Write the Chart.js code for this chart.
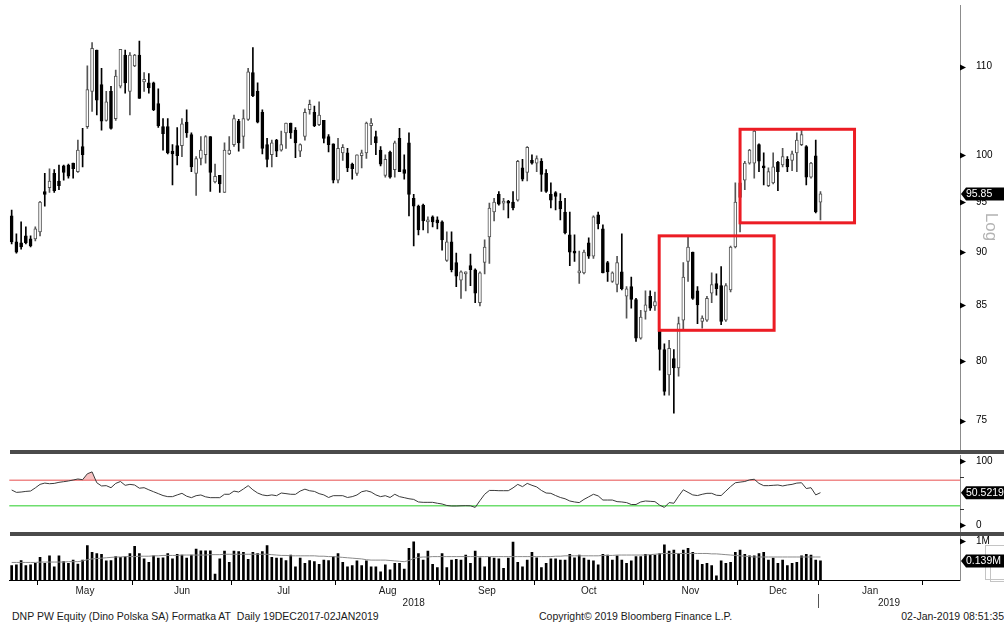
<!DOCTYPE html>
<html>
<head>
<meta charset="utf-8">
<title>DNP PW Equity</title>
<script src="https://cdn.jsdelivr.net/npm/chart.js@4.4.1/dist/chart.umd.min.js"></script>
<style>
  body { margin: 0; background: #fff; }
  #page { position: relative; width: 1004px; height: 625px; overflow: hidden;
          font-family: "Liberation Sans", Arial, sans-serif; color: #1a1a1a; }
  canvas { position: absolute; left: 0; }
  #cPrice { top: 0; }
  #cRsi { top: 454px; }
  #cVol { top: 535px; }
  .sep { position: absolute; left: 10px; width: 994px; height: 4px; background: #4b4b4b; }
  .foot { position: absolute; top: 610px; font-size: 10.5px; white-space: nowrap; }
</style>
</head>
<body>
<div id="page">
  <canvas id="cPrice" width="1004" height="450"></canvas>
  <canvas id="cRsi" width="1004" height="78"></canvas>
  <canvas id="cVol" width="1004" height="74"></canvas>
  <div class="sep" style="top:450px"></div>
  <div class="sep" style="top:532px"></div>
  <div class="foot" style="left:12px">DNP PW Equity (Dino Polska SA) Formatka AT&nbsp; Daily 19DEC2017-02JAN2019</div>
  <div class="foot" style="left:539px">Copyright© 2019 Bloomberg Finance L.P.</div>
  <div class="foot" style="right:0">02-Jan-2019 08:51:35</div>
</div>
<script>
// daily candles, 23 Apr 2018 .. 02 Jan 2019 (one entry per trading day)
const open = [
  93.6, 91.0, 90.9, 91.6, 91.3, 91.3, 92.0, 96.1, 96.5, 98.0,
  97.2, 98.8, 98.9, 99.1, 98.2, 100.9, 103.1, 107.1, 112.0, 107.9,
  103.8, 107.1, 104.0, 107.7, 111.4, 107.1, 110.1, 111.4, 108.2, 108.1,
  108.1, 105.7, 103.1, 103.1, 100.4, 101.0, 101.0, 103.6, 102.2, 98.0,
  99.6, 100.0, 102.0, 97.1, 97.8, 96.0, 100.1, 101.1, 103.7, 102.0,
  103.9, 109.3, 107.1, 104.7, 101.1, 100.0, 101.6, 100.5, 102.4, 103.5,
  102.7, 100.4, 102.0, 105.0, 104.7, 103.3, 103.8, 102.0, 101.2, 97.3,
  100.2, 100.2, 99.0, 98.0, 99.9, 100.2, 103.2, 102.0, 100.5, 97.8,
  100.3, 98.4, 101.8, 98.4, 101.3, 95.4, 94.6, 94.7, 93.0, 93.5,
  93.2, 93.0, 89.2, 91.0, 89.0, 87.3, 87.9, 88.7, 88.3, 85.2,
  89.0, 91.5, 94.0, 95.8, 94.9, 95.1, 95.0, 95.2, 98.6, 98.1,
  99.4, 99.1, 99.3, 98.0, 95.8, 96.0, 95.1, 94.0, 91.7, 90.1,
  88.0, 88.0, 90.9, 89.6, 93.7, 92.3, 89.0, 87.2, 86.9, 88.1,
  85.8, 86.7, 85.5, 82.0, 84.4, 85.8, 84.9, 82.6, 81.0, 78.8,
  80.2, 79.4, 83.6, 89.1, 90.0, 86.3, 83.5, 83.6, 86.1, 87.0,
  86.8, 83.6, 86.4, 90.5, 95.5, 97.3, 99.1, 99.1, 101.1, 98.8,
  96.7, 97.0, 99.2, 98.9, 99.5, 99.4, 100.2, 101.1, 100.9, 97.6,
  99.9, 95.0
];
const high = [
  94.2, 91.8, 93.0, 92.5, 91.6, 92.5, 95.1, 98.0, 98.5, 98.4,
  98.9, 98.9, 99.0, 99.1, 101.6, 102.9, 110.1, 112.9, 112.0, 109.8,
  107.1, 107.7, 109.6, 112.1, 112.0, 111.7, 111.5, 113.1, 109.3, 109.2,
  108.2, 107.4, 104.0, 104.0, 101.1, 103.0, 104.0, 105.0, 102.4, 99.8,
  102.0, 102.1, 102.0, 99.0, 97.8, 101.3, 102.0, 104.4, 103.9, 105.0,
  109.8, 112.3, 108.1, 105.0, 101.8, 101.6, 101.7, 102.6, 103.5, 103.5,
  103.0, 101.2, 105.1, 106.1, 105.4, 105.9, 103.8, 102.2, 101.2, 101.8,
  101.1, 100.7, 99.1, 100.0, 100.5, 103.6, 104.0, 102.6, 100.9, 100.0,
  100.4, 101.5, 102.9, 100.0, 102.4, 95.8, 94.7, 94.8, 93.5, 93.6,
  93.5, 93.1, 92.0, 92.0, 89.9, 88.2, 88.1, 89.8, 88.4, 88.1,
  91.2, 94.9, 95.4, 96.1, 95.4, 95.2, 96.1, 99.4, 99.5, 100.9,
  100.0, 99.9, 99.6, 98.4, 97.0, 96.1, 95.9, 95.4, 94.0, 91.7,
  90.1, 90.2, 91.4, 93.6, 94.0, 92.7, 89.1, 88.1, 89.6, 91.8,
  86.7, 87.6, 85.6, 84.5, 86.3, 86.3, 86.2, 82.7, 81.5, 81.8,
  81.0, 83.9, 89.0, 91.5, 90.0, 86.7, 84.0, 85.8, 88.0, 87.9,
  88.6, 87.0, 90.6, 97.0, 97.5, 99.3, 100.6, 102.7, 101.2, 100.2,
  98.6, 100.2, 99.3, 100.7, 99.8, 100.4, 102.4, 102.7, 101.0, 99.2,
  101.6, 96.1
];
const low = [
  90.8, 89.9, 90.3, 90.8, 90.5, 91.1, 91.6, 94.6, 96.0, 96.0,
  96.3, 97.3, 97.5, 97.5, 98.1, 98.7, 102.9, 104.8, 104.4, 102.7,
  103.7, 102.8, 103.8, 107.5, 106.9, 104.4, 110.0, 106.3, 107.1, 106.9,
  104.9, 103.0, 100.5, 100.1, 96.8, 98.9, 99.8, 101.9, 98.2, 95.7,
  98.9, 99.1, 96.1, 97.0, 96.0, 96.0, 100.0, 100.9, 100.4, 100.7,
  103.8, 106.5, 103.5, 100.1, 98.7, 98.7, 99.8, 100.4, 100.7, 101.8,
  99.7, 99.8, 101.6, 104.5, 103.1, 103.2, 101.3, 100.3, 97.0, 97.0,
  99.4, 98.2, 97.4, 97.8, 98.6, 99.6, 101.1, 100.0, 98.8, 97.6,
  97.5, 97.6, 98.2, 97.4, 93.6, 90.6, 91.7, 92.2, 91.9, 92.5,
  92.3, 90.2, 89.1, 88.1, 86.7, 85.6, 86.3, 86.8, 85.2, 84.9,
  87.9, 88.9, 93.1, 94.7, 94.2, 93.4, 94.2, 95.1, 97.2, 97.2,
  99.0, 98.2, 96.1, 96.0, 94.4, 94.2, 93.2, 91.8, 88.7, 89.1,
  87.0, 87.9, 89.4, 89.4, 92.3, 88.0, 87.2, 87.1, 86.2, 86.4,
  83.8, 84.7, 81.7, 81.9, 83.7, 84.5, 84.5, 79.2, 77.1, 77.1,
  75.6, 78.7, 82.7, 87.2, 85.5, 83.3, 82.9, 83.5, 85.2, 85.9,
  83.2, 83.5, 86.2, 90.4, 92.0, 96.3, 99.0, 97.5, 98.2, 96.8,
  96.6, 96.9, 96.2, 98.7, 98.2, 98.3, 98.2, 101.0, 96.8, 97.5,
  93.9, 93.2
];
const close = [
  91.0, 90.0, 90.5, 90.9, 90.6, 92.3, 95.0, 95.8, 97.2, 96.2,
  96.7, 98.1, 97.7, 98.5, 100.5, 100.0, 107.3, 112.2, 106.1, 103.7,
  105.9, 102.9, 108.9, 112.1, 108.1, 111.4, 111.4, 106.3, 108.5, 107.5,
  105.0, 103.2, 102.3, 100.2, 100.1, 99.9, 103.4, 102.4, 98.7, 99.6,
  100.5, 102.0, 98.1, 97.7, 96.9, 100.5, 100.5, 104.0, 101.3, 104.0,
  109.4, 106.6, 103.6, 100.7, 99.5, 101.3, 100.4, 101.1, 103.5, 102.4,
  101.3, 101.1, 104.7, 105.6, 103.2, 104.4, 101.8, 101.1, 97.3, 100.7,
  100.8, 98.6, 98.5, 100.0, 100.2, 103.5, 103.5, 101.3, 99.0, 99.5,
  97.6, 101.3, 98.2, 98.0, 95.8, 94.6, 92.2, 93.1, 93.2, 93.0,
  92.9, 91.2, 91.0, 88.3, 87.7, 88.1, 88.1, 88.3, 86.1, 88.0,
  90.5, 94.4, 95.0, 94.8, 95.1, 94.9, 94.4, 99.3, 97.4, 100.8,
  99.1, 99.6, 97.9, 96.1, 95.2, 95.6, 94.3, 91.9, 90.0, 89.9,
  88.2, 90.0, 89.6, 93.5, 92.8, 88.0, 88.1, 88.0, 89.0, 86.5,
  86.5, 85.5, 82.0, 83.9, 85.0, 84.7, 85.3, 81.0, 77.4, 81.1,
  79.4, 83.3, 87.6, 90.5, 85.6, 85.0, 83.8, 85.6, 86.9, 86.5,
  83.5, 86.8, 90.5, 95.0, 97.0, 99.1, 100.5, 102.6, 99.3, 98.6,
  98.2, 98.7, 98.2, 99.8, 98.7, 100.1, 101.6, 102.2, 97.6, 99.1,
  94.0, 95.85
];
// RSI (14)
const rsi = [
  54.7, 51.0, 51.5, 52.5, 53.1, 58, 63.5, 65.5, 64.5, 65,
  66.7, 67.7, 68.8, 70.3, 71.9, 70.8, 80, 83, 66, 61,
  61.5, 58.3, 65, 68, 62, 63.5, 62.5, 57.5, 58.3, 55,
  52, 49, 46, 44.3, 44.3, 47, 49.5, 45, 42.7, 45.8,
  46.9, 44, 42.7, 42.7, 42.7, 48, 48, 53, 51.5, 56.3,
  61.5, 55, 50, 47, 45.8, 47, 45.8, 50, 49, 48,
  47.9, 53, 56, 53.5, 52.5, 49, 47, 43, 45.8, 45.8,
  45.8, 43, 44.3, 46.9, 52, 53.6, 51.5, 47, 44.3, 45.8,
  43, 48, 44.3, 42.7, 41, 40, 36, 35.4, 35.4, 35.4,
  34, 32.8, 30.5, 29.7, 29.7, 30, 30.2, 30, 27.5, 38,
  48, 54, 54, 53.6, 53.6, 53.6, 58, 63.5, 59.9, 65,
  62, 59.5, 54, 50, 49.5, 46, 43, 41, 37.5, 36,
  35, 40, 44, 48, 45.5, 39, 39, 39, 36.5, 36,
  35, 32, 32, 36, 37.5, 37, 36.5, 31, 27.5, 35,
  34, 45, 55, 51, 47, 46, 48, 49.5, 49.5, 46.5,
  46, 53, 60, 66, 67, 68, 70.5, 71.5, 65, 61.5,
  61.5, 62, 62.5, 61, 62.5, 63.5, 65.5, 66, 57, 58.3,
  47, 50.5219
];
// volume, millions of shares
const volume = [
  0.37, 0.39, 0.50, 0.37, 0.39, 0.43, 0.58, 0.43, 0.62, 0.34,
  0.62, 0.47, 0.43, 0.51, 0.41, 0.51, 0.88, 0.71, 0.68, 0.66,
  0.49, 0.50, 0.60, 0.58, 0.60, 0.68, 0.86, 0.68, 0.54, 0.45,
  0.62, 0.56, 0.57, 0.68, 0.54, 0.66, 0.64, 0.56, 0.64, 0.79,
  0.75, 0.75, 0.75, 0.15, 0.54, 0.74, 0.45, 0.74, 0.73, 0.71,
  0.53, 0.71, 0.68, 0.73, 0.88, 0.58, 0.56, 0.56, 0.50, 0.64,
  0.34, 0.56, 0.43, 0.50, 0.47, 0.40, 0.51, 0.50, 0.60, 0.68,
  0.45, 0.34, 0.37, 0.49, 0.37, 0.49, 0.34, 0.34, 0.21, 0.39,
  0.26, 0.43, 0.43, 0.28, 0.81, 0.98, 0.68, 0.51, 0.74, 0.40,
  0.32, 0.68, 0.32, 0.51, 0.53, 0.51, 0.64, 0.43, 0.74, 0.57,
  0.34, 0.58, 0.56, 0.54, 0.30, 0.56, 0.97, 0.45, 0.34, 0.51,
  0.71, 0.57, 0.32, 0.43, 0.54, 0.54, 0.51, 0.51, 0.66, 0.57,
  0.64, 0.56, 0.51, 0.49, 0.39, 0.66, 0.64, 0.51, 0.62, 0.51,
  0.43, 0.49, 0.60, 0.60, 0.66, 0.64, 0.64, 0.68, 0.90, 0.74,
  0.77, 0.68, 0.77, 0.81, 0.71, 0.51, 0.40, 0.43, 0.37, 0.11,
  0.49, 0.43, 0.45, 0.71, 0.77, 0.66, 0.62, 0.62, 0.68, 0.71,
  0.51, 0.56, 0.43, 0.51, 0.37, 0.43, 0.45, 0.62, 0.66, 0.64,
  0.51, 0.49
];
// volume moving average
const volumeAvg = [
  0.45, 0.45, 0.45, 0.45, 0.45, 0.45, 0.46, 0.46, 0.46, 0.46,
  0.46, 0.46, 0.47, 0.47, 0.47, 0.49, 0.52, 0.54, 0.55, 0.56,
  0.57, 0.58, 0.59, 0.59, 0.60, 0.60, 0.60, 0.61, 0.61, 0.61,
  0.62, 0.62, 0.63, 0.63, 0.63, 0.63, 0.64, 0.64, 0.64, 0.64,
  0.64, 0.64, 0.65, 0.65, 0.65, 0.66, 0.66, 0.66, 0.66, 0.66,
  0.66, 0.66, 0.66, 0.66, 0.66, 0.65, 0.64, 0.63, 0.63, 0.62,
  0.62, 0.62, 0.62, 0.62, 0.62, 0.61, 0.61, 0.60, 0.60, 0.59,
  0.58, 0.57, 0.56, 0.55, 0.54, 0.52, 0.51, 0.51, 0.51, 0.51,
  0.50, 0.49, 0.48, 0.47, 0.50, 0.55, 0.58, 0.59, 0.59, 0.60,
  0.60, 0.60, 0.60, 0.60, 0.60, 0.60, 0.60, 0.60, 0.60, 0.60,
  0.60, 0.60, 0.60, 0.60, 0.60, 0.60, 0.60, 0.60, 0.60, 0.60,
  0.60, 0.60, 0.60, 0.60, 0.60, 0.61, 0.61, 0.62, 0.62, 0.62,
  0.62, 0.62, 0.62, 0.62, 0.62, 0.63, 0.63, 0.63, 0.64, 0.64,
  0.64, 0.64, 0.64, 0.64, 0.64, 0.65, 0.66, 0.67, 0.68, 0.68,
  0.68, 0.68, 0.68, 0.68, 0.68, 0.68, 0.68, 0.68, 0.67, 0.67,
  0.66, 0.65, 0.64, 0.63, 0.62, 0.61, 0.60, 0.59, 0.59, 0.59,
  0.59, 0.59, 0.59, 0.59, 0.59, 0.59, 0.59, 0.59, 0.59, 0.59,
  0.59, 0.59
];

const months = ['May', 'Jun', 'Jul', 'Aug', 'Sep', 'Oct', 'Nov', 'Dec', 'Jan'];
const monthStart = [6, 26, 47, 69, 91, 111, 134, 154, 171, 193]; // index of first session, last one = Feb
const years = ['2018', '2019'];
const yearStart = [0, 171];
const slots = 201; // sessions shown on the time axis, incl. empty ones after the last bar
const priceTicks = [75, 80, 85, 90, 95, 100, 110];
const rsiTicks = [0, 25, 75, 100];
const rsiLabels = { 0: '0', 100: '100' };
const rsiLevels = [70, 30];
const volTicks = [1];
const volTagText = '0.139M';
// highlighted areas: from/to in sessions, top/bottom in price
const boxes = [
  { from: 136.9, to: 161.2, top: 91.6, bottom: 82.7 },
  { from: 154.0, to: 178.2, top: 102.8, bottom: 92.9 }
];

Chart.defaults.font.family = '"Liberation Sans", Arial, sans-serif';
Chart.defaults.font.size = 10;
Chart.defaults.color = '#111';

const idx = close.map((_, i) => i);
const up = idx.map(i => close[i] >= open[i]);
const PAD_LEFT = 9.3, AXIS_W = 44;

const timeAxis = { type: 'linear', min: -0.5, max: slots - 0.5, display: false, offset: false };
const baseOptions = {
  responsive: false,
  animation: false,
  events: [],
  plugins: { legend: { display: false }, tooltip: { enabled: false } }
};

function rightAxis(extra) {
  return Object.assign({
    position: 'right',
    afterFit: s => { s.width = AXIS_W; s.paddingTop = 0; s.paddingBottom = 0; },
    grid: { display: false },
    border: { color: '#8c8c8c' },
    ticks: { padding: 8, color: '#000', font: { size: 10 } }
  }, extra);
}

// small arrows on the right axis
function axisMarks(ctx, scale, values, isLabelled) {
  ctx.save();
  ctx.fillStyle = '#000';
  ctx.strokeStyle = '#333';
  values.forEach(v => {
    const y = Math.round(scale.getPixelForValue(v)) + 0.5;
    const x = scale.left;
    if (isLabelled(v)) {
      ctx.beginPath();
      ctx.moveTo(x, y - 3); ctx.lineTo(x + 6, y); ctx.lineTo(x, y + 3);
      ctx.closePath(); ctx.fill();
    } else {
      ctx.beginPath(); ctx.moveTo(x, y); ctx.lineTo(x + 4, y); ctx.stroke();
    }
  });
  ctx.restore();
}

// black last-value label
function valueTag(chart, scale, value, text) {
  const ctx = chart.ctx;
  const y = scale.getPixelForValue(value);
  const x = scale.left, r = chart.width;
  ctx.save();
  ctx.fillStyle = '#000';
  ctx.beginPath();
  ctx.moveTo(x + 1, y);
  ctx.lineTo(x + 6, y - 6.5);
  ctx.lineTo(r, y - 6.5);
  ctx.lineTo(r, y + 6.5);
  ctx.lineTo(x + 6, y + 6.5);
  ctx.closePath();
  ctx.fill();
  ctx.fillStyle = '#fff';
  ctx.font = '10.5px "Liberation Sans", Arial, sans-serif';
  ctx.textBaseline = 'middle';
  ctx.fillText(text, x + 6, y + 0.5);
  ctx.restore();
}

// ---------- price (log) ----------
const priceExtras = {
  id: 'priceExtras',
  afterDatasetsDraw(chart) {
    const { ctx, scales: { x, y } } = chart;
    ctx.save();
    ctx.strokeStyle = '#ec1c24';
    ctx.lineWidth = 3;
    boxes.forEach(b => {
      const x0 = x.getPixelForValue(b.from), x1 = x.getPixelForValue(b.to);
      const y0 = y.getPixelForValue(b.top), y1 = y.getPixelForValue(b.bottom);
      ctx.strokeRect(x0, y0, x1 - x0, y1 - y0);
    });
    ctx.restore();
  },
  afterDraw(chart) {
    const { ctx, scales: { y } } = chart;
    axisMarks(ctx, y, priceTicks, () => true);
    valueTag(chart, y, close[close.length - 1], close[close.length - 1].toFixed(2));
    ctx.save();
    ctx.translate(991, 227);
    ctx.rotate(Math.PI / 2);
    ctx.font = '17px "Liberation Sans", Arial, sans-serif';
    ctx.fillStyle = '#b4b4b4';
    ctx.textAlign = 'center';
    ctx.textBaseline = 'middle';
    ctx.fillText('Log', 0, 0);
    ctx.restore();
  }
};

new Chart(document.getElementById('cPrice'), {
  type: 'bar',
  data: {
    datasets: [
      {
        data: idx.map(i => ({ x: i, y: [Math.min(open[i], close[i]), Math.max(open[i], close[i])] })),
        backgroundColor: up.map(u => u ? '#fff' : '#000'),
        borderColor: up.map(u => u ? '#505050' : '#000'),
        borderWidth: 1, borderSkipped: false, barThickness: 3, minBarLength: 2, grouped: false
      },
      {
        data: idx.map(i => ({ x: i, y: [low[i], high[i]] })),
        backgroundColor: up.map(u => u ? '#555' : '#000'),
        barThickness: 1, grouped: false
      }
    ]
  },
  options: Object.assign({}, baseOptions, {
    layout: { padding: { left: PAD_LEFT, top: 5, right: 0, bottom: 0 } },
    scales: {
      x: timeAxis,
      y: rightAxis({
        type: 'logarithmic', min: 72.65, max: 117.6,
        afterBuildTicks: s => { s.ticks = priceTicks.map(v => ({ value: v })); },
        ticks: { padding: 8, color: '#000', font: { size: 10 }, callback: v => String(v) }
      })
    }
  }),
  plugins: [priceExtras]
});

// ---------- RSI ----------
const rsiExtras = {
  id: 'rsiExtras',
  beforeDatasetsDraw(chart) {
    const { ctx, chartArea, scales: { y } } = chart;
    ctx.save();
    ctx.lineWidth = 1.5;
    rsiLevels.forEach((lv, k) => {
      const py = y.getPixelForValue(lv);
      ctx.strokeStyle = k === 0 ? '#f08a8a' : '#6ede6e';
      ctx.beginPath(); ctx.moveTo(chartArea.left, py); ctx.lineTo(chartArea.right, py); ctx.stroke();
    });
    ctx.restore();
  },
  afterDraw(chart) {
    const { ctx, scales: { y } } = chart;
    axisMarks(ctx, y, rsiTicks, v => v in rsiLabels);
    valueTag(chart, y, rsi[rsi.length - 1], rsi[rsi.length - 1].toFixed(4));
  }
};

new Chart(document.getElementById('cRsi'), {
  type: 'line',
  data: {
    datasets: [{
      data: idx.map(i => ({ x: i, y: rsi[i] })),
      borderColor: '#3a3a3a', borderWidth: 1, pointRadius: 0, tension: 0,
      fill: { target: { value: rsiLevels[0] }, above: 'rgba(240,120,120,0.45)', below: 'rgba(0,0,0,0)' }
    }]
  },
  options: Object.assign({}, baseOptions, {
    layout: { padding: { left: PAD_LEFT, top: 1, right: 0, bottom: 1 } },
    scales: {
      x: timeAxis,
      y: rightAxis({
        min: -9.4, max: 109.4,
        afterBuildTicks: s => { s.ticks = rsiTicks.map(v => ({ value: v })); },
        ticks: { padding: 8, color: '#000', font: { size: 10 }, callback: v => rsiLabels[v] || '' }
      })
    }
  }),
  plugins: [rsiExtras]
});

// ---------- volume + time axis ----------
const boundaries = monthStart.map(s => s - 0.5).filter(v => v < slots - 0.5);
const mids = months.map((m, k) => (monthStart[k] + monthStart[k + 1] - 1) / 2);
const xTicks = boundaries.concat(mids).sort((a, b) => a - b);

const volExtras = {
  id: 'volExtras',
  afterDraw(chart) {
    const { ctx, chartArea, scales: { x, y } } = chart;
    axisMarks(ctx, y, volTicks, () => true);
    // window icon, right edge
    ctx.save();
    ctx.strokeStyle = '#c4c4c4';
    ctx.lineWidth = 1;
    ctx.strokeRect(985.5, 10.5, 30, 34);
    ctx.strokeRect(990.5, 30.5, 20, 16);
    ctx.restore();
    valueTag(chart, y, volume[volume.length - 1], volTagText);
    // years under the month labels
    ctx.save();
    ctx.fillStyle = '#1a1a1a';
    ctx.font = '10px "Liberation Sans", Arial, sans-serif';
    ctx.textAlign = 'center';
    ctx.textBaseline = 'middle';
    years.forEach((yr, k) => {
      const a = yearStart[k] - 0.5;
      const b = k + 1 < yearStart.length ? yearStart[k + 1] - 0.5 : slots - 0.5;
      ctx.fillText(yr, x.getPixelForValue((a + b) / 2), chartArea.bottom + 23);
    });
    ctx.strokeStyle = '#555';
    yearStart.slice(1).forEach(s => {
      const px = Math.round(x.getPixelForValue(s - 0.5)) + 0.5;
      ctx.beginPath(); ctx.moveTo(px, chartArea.bottom + 14); ctx.lineTo(px, chartArea.bottom + 28); ctx.stroke();
    });
    ctx.restore();
  }
};

new Chart(document.getElementById('cVol'), {
  type: 'bar',
  data: {
    datasets: [
      {
        type: 'line',
        data: idx.map(i => ({ x: i, y: volumeAvg[i] })),
        borderColor: '#8a8a8a', borderWidth: 1, pointRadius: 0, tension: 0
      },
      {
        type: 'bar',
        data: idx.map(i => ({ x: i, y: volume[i] })),
        backgroundColor: '#000', barThickness: 2, grouped: false
      }
    ]
  },
  options: Object.assign({}, baseOptions, {
    layout: { padding: { left: PAD_LEFT, top: 1, right: 0, bottom: 0 } },
    scales: {
      x: {
        type: 'linear', min: -0.5, max: slots - 0.5, position: 'bottom', offset: false,
        afterFit: s => { s.height = 29; s.paddingLeft = 0; s.paddingRight = 0; },
        afterBuildTicks: s => { s.ticks = xTicks.map(v => ({ value: v })); },
        grid: {
          display: true, drawOnChartArea: false, drawTicks: true, tickLength: 5, offset: false,
          color: c => (c.tick && boundaries.includes(c.tick.value)) ? '#000' : 'rgba(0,0,0,0)'
        },
        border: { display: true, color: '#000' },
        ticks: {
          autoSkip: false, maxRotation: 0, padding: 0, color: '#1a1a1a', font: { size: 10 },
          callback: v => { const k = mids.indexOf(v); return k >= 0 ? months[k] : ''; }
        }
      },
      y: rightAxis({
        min: 0, max: 1.128,
        afterBuildTicks: s => { s.ticks = volTicks.map(v => ({ value: v })); },
        ticks: { padding: 8, color: '#000', font: { size: 10 }, callback: v => v + 'M' }
      })
    }
  }),
  plugins: [volExtras]
});
</script>
</body>
</html>
